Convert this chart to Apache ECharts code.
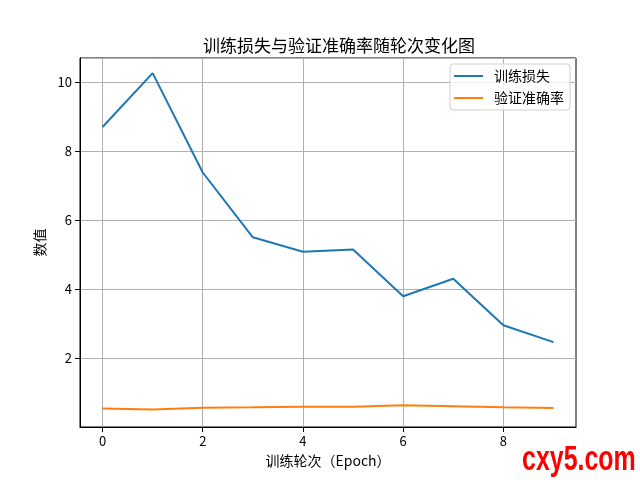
<!DOCTYPE html>
<html>
<head>
<meta charset="utf-8">
<script src="https://cdn.jsdelivr.net/npm/echarts@6/dist/echarts.min.js"></script>
<style>html,body{margin:0;padding:0;background:#fff;}#c{width:640px;height:480px;}</style>
</head>
<body>
<div id="c"></div>
<script>
const epochs = [0, 1, 2, 3, 4, 5, 6, 7, 8, 9];
const trainLoss = [8.70, 10.26, 7.38, 5.50, 5.08, 5.15, 3.79, 4.30, 2.95, 2.46];
const valAcc = [0.54, 0.51, 0.56, 0.57, 0.59, 0.59, 0.63, 0.60, 0.57, 0.55];
const xTicks = [0, 2, 4, 6, 8];
const titleText = '训练损失与验证准确率随轮次变化图';
const xName = '训练轮次（Epoch）';
const yName = '数值';
const seriesNames = ['训练损失', '验证准确率'];
const FONT = '"Noto Sans CJK SC", "DejaVu Sans", sans-serif';

const chart = echarts.init(document.getElementById('c'), null, {renderer: 'canvas'});
const axisCommon = {
  axisLine: {show: true, onZero: false, lineStyle: {color: '#000', width: 1}},
  splitLine: {show: true, lineStyle: {color: '#b0b0b0', width: 1}},
  nameTextStyle: {fontFamily: FONT, fontSize: 14, color: '#000'}
};
chart.setOption({
  animation: false,
  backgroundColor: '#fff',
  title: {
    text: titleText, left: 334, top: 32, textAlign: 'center',
    textStyle: {fontFamily: FONT, fontSize: 17, fontWeight: 'normal', color: '#000'}
  },
  grid: {left: 80, right: 64, top: 58, bottom: 53, show: true, borderColor: '#000', borderWidth: 1, containLabel: false},
  legend: {
    orient: 'vertical', left: 450, top: 64,
    data: seriesNames,
    itemWidth: 29, itemHeight: 14, itemGap: 8,
    padding: [5, 6, 5, 4],
    borderColor: '#d0d0d0', borderWidth: 1, borderRadius: 3,
    backgroundColor: 'rgba(255,255,255,0.8)',
    textStyle: {fontFamily: FONT, fontSize: 14, color: '#000', padding: [0, 0, 0, 6]},
    icon: 'path://M0,0 L29,0 L29,2 L0,2 Z'
  },
  xAxis: Object.assign({}, axisCommon, {
    type: 'value', min: -0.45, max: 9.45,
    name: xName, nameLocation: 'middle', nameGap: 27,
    axisTick: {show: true, inside: false, length: 5, lineStyle: {color: '#000', width: 1}, customValues: xTicks},
    axisLabel: {fontFamily: FONT, fontSize: 13, color: '#000', margin: 8, customValues: xTicks}
  }),
  yAxis: Object.assign({}, axisCommon, {
    type: 'value', min: 0, max: 10.7, interval: 2,
    name: yName, nameLocation: 'middle', nameGap: 29, nameRotate: 90,
    axisTick: {show: true, inside: false, length: 5, lineStyle: {color: '#000', width: 1}},
    axisLabel: {fontFamily: FONT, fontSize: 13, color: '#000', margin: 8, showMinLabel: false, showMaxLabel: false}
  }),
  series: [
    {name: seriesNames[0], type: 'line', data: epochs.map((e, i) => [e, trainLoss[i]]),
     showSymbol: false, symbol: 'none', lineStyle: {color: '#1f77b4', width: 2}, itemStyle: {color: '#1f77b4'}},
    {name: seriesNames[1], type: 'line', data: epochs.map((e, i) => [e, valAcc[i]]),
     showSymbol: false, symbol: 'none', lineStyle: {color: '#ff7f0e', width: 2}, itemStyle: {color: '#ff7f0e'}}
  ],
  graphic: [{
    type: 'text', x: 522, y: 442, scaleX: 0.78, scaleY: 1.12,
    style: {text: 'cxy5.com', fill: '#ff0000', font: 'bold 32px "Liberation Sans", "DejaVu Sans", sans-serif'}
  }]
});
</script>
</body>
</html>
